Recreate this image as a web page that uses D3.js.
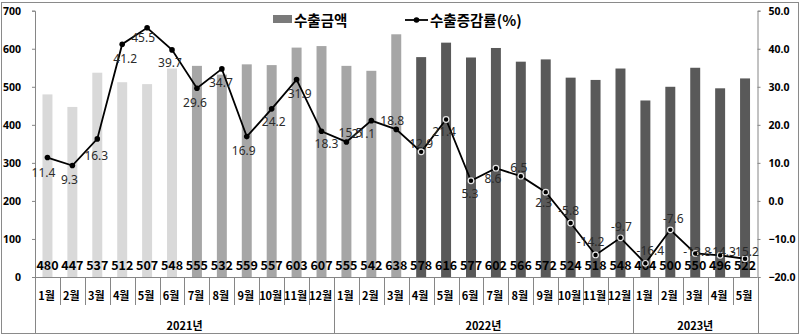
<!DOCTYPE html>
<html>
<head>
<meta charset="utf-8">
<script src="https://cdn.jsdelivr.net/npm/d3@7/dist/d3.min.js"></script>
<style>
  html, body { margin: 0; padding: 0; background: #fff; }
  svg { display: block; }
  text { font-family: "Noto Sans CJK KR", "Noto Sans", sans-serif; }
</style>
</head>
<body>
<svg id="chart" width="800" height="336"></svg>
<script>
// Monthly export amount and year-on-year change rate
const years = ["2021년", "2022년", "2023년"];
const monthsPerYear = [12, 12, 5];
const months = [
  "1월","2월","3월","4월","5월","6월","7월","8월","9월","10월","11월","12월",
  "1월","2월","3월","4월","5월","6월","7월","8월","9월","10월","11월","12월",
  "1월","2월","3월","4월","5월"
];
const exportAmount = [
  480, 447, 537, 512, 507, 548, 555, 532, 559, 557, 603, 607,
  555, 542, 638, 578, 616, 577, 602, 566, 572, 524, 518, 548,
  464, 500, 550, 496, 522
];
const exportRate = [
  11.4, 9.3, 16.3, 41.2, 45.5, 39.7, 29.6, 34.7, 16.9, 24.2, 31.9, 18.3,
  15.5, 21.1, 18.8, 12.9, 21.4, 5.3, 8.6, 6.5, 2.3, -5.8, -14.2, -9.7,
  -16.4, -7.6, -13.8, -14.3, -15.2
];
const leftTicks = [0, 100, 200, 300, 400, 500, 600, 700];
const rightTicks = [-20, -10, 0, 10, 20, 30, 40, 50];

// label nudges for the rate labels (dx, dy from each point)
const rateLabelNudge = [
  [-4, 15], [-3, 14], [-1, 17], [3, 14], [-4, 10], [-2, 13], [-2, 14], [-1, 14],
  [-3, 14], [2, 12.5], [3, 13.5], [5, 12.5], [4, -9], [-8, 12.5], [-4, -9], [0, -8.5],
  [-2, 12], [-1, 12.5], [-3, 10], [-2, -9], [-2, 10], [-2, -12], [-5, -13], [1, -11],
  [5, -13], [3, -11], [2, -2], [2, -4], [0, -7]
];

const svg = d3.select("#chart");
const plot = { left: 35, right: 757.5, top: 10.7, bottom: 277 };
const axisColor = "#868686";

const idx = d3.range(exportAmount.length);
const x = d3.scaleBand().domain(idx).range([plot.left, plot.right]).padding(0);
const yL = d3.scaleLinear().domain([0, 700]).range([plot.bottom, plot.top]);
const yR = d3.scaleLinear().domain([-20, 50]).range([plot.bottom, plot.top]);
const cx = i => x(i) + x.bandwidth() / 2;

function barShade(i) {
  if (i < 6) return "#d9d9d9";
  if (i < 15) return "#a6a6a6";
  return "#595959";
}

// outer frame
svg.append("rect")
  .attr("x", 1.5).attr("y", 2.5).attr("width", 797).attr("height", 331)
  .attr("fill", "none").attr("stroke", "#8a8a8a").attr("stroke-width", 1);

// bars
const bw = x.bandwidth() * 0.4;
svg.append("g").selectAll("rect").data(idx).join("rect")
  .attr("x", i => cx(i) - bw / 2)
  .attr("y", i => yL(exportAmount[i]))
  .attr("width", bw)
  .attr("height", i => yL(0) - yL(exportAmount[i]))
  .attr("fill", i => barShade(i));

// left axis
const gL = svg.append("g").attr("transform", `translate(${plot.left},0)`)
  .call(d3.axisLeft(yL).tickValues(leftTicks).tickSize(3).tickPadding(11).tickFormat(d3.format("d")));
gL.select(".domain").attr("stroke", axisColor);
gL.selectAll(".tick line").attr("stroke", axisColor);
gL.selectAll(".tick text").attr("fill", "#000").style("font-size", "10.5px").style("font-weight", "bold")
  .style("font-family", "'Noto Sans', sans-serif");

// right axis
const gR = svg.append("g").attr("transform", `translate(${plot.right},0)`)
  .call(d3.axisRight(yR).tickValues(rightTicks).tickSize(3).tickPadding(8).tickFormat(d3.format(".1f")));
gR.select(".domain").attr("stroke", axisColor);
gR.selectAll(".tick line").attr("stroke", axisColor);
gR.selectAll(".tick text").attr("fill", "#000").style("font-size", "10.5px").style("font-weight", "bold")
  .style("font-family", "'Noto Sans', sans-serif");

// category axis: baseline, month dividers, year dividers
const cat = svg.append("g");
cat.append("line").attr("x1", plot.left).attr("x2", plot.right)
  .attr("y1", plot.bottom + 0.5).attr("y2", plot.bottom + 0.5).attr("stroke", axisColor);

const yearStart = [0];
monthsPerYear.forEach((n, k) => yearStart.push(yearStart[k] + n));
const step = x.step();
d3.range(exportAmount.length + 1).forEach(i => {
  const xx = Math.round(plot.left + i * step) + 0.5;
  const isYear = yearStart.includes(i);
  cat.append("line").attr("x1", xx).attr("x2", xx)
    .attr("y1", plot.bottom).attr("y2", isYear ? 333 : 305)
    .attr("stroke", axisColor);
});

cat.selectAll("text.month").data(idx).join("text")
  .attr("class", "month")
  .attr("x", i => cx(i) - 1)
  .attr("y", 295)
  .attr("text-anchor", "middle").attr("dominant-baseline", "central")
  .style("font-size", "11px").style("font-weight", "bold")
  .text(i => months[i]);

cat.selectAll("text.year").data(years).join("text")
  .attr("class", "year")
  .attr("x", (d, k) => (plot.left + yearStart[k] * step + plot.left + yearStart[k + 1] * step) / 2)
  .attr("y", 325)
  .attr("text-anchor", "middle").attr("dominant-baseline", "central")
  .style("font-size", "11px").style("font-weight", "bold")
  .text(d => d);

// bar value labels
svg.append("g").selectAll("text").data(idx).join("text")
  .attr("x", i => cx(i))
  .attr("y", 264)
  .attr("text-anchor", "middle").attr("dominant-baseline", "central")
  .style("font-size", "12.5px").style("font-weight", "bold").attr("fill", "#000")
  .text(i => exportAmount[i]);

// rate line
const line = d3.line().x(i => cx(i)).y(i => yR(exportRate[i]));
svg.append("path").datum(idx).attr("d", line)
  .attr("fill", "none").attr("stroke", "#000").attr("stroke-width", 1.8);

svg.append("g").selectAll("circle").data(idx).join("circle")
  .attr("cx", i => cx(i)).attr("cy", i => yR(exportRate[i])).attr("r", 2.8)
  .attr("fill", "#000").attr("stroke", i => i >= 15 ? "#e6e6e6" : "none").attr("stroke-width", 1.2);

svg.append("g").selectAll("text").data(idx).join("text")
  .attr("x", i => cx(i) + rateLabelNudge[i][0])
  .attr("y", i => yR(exportRate[i]) + rateLabelNudge[i][1])
  .attr("text-anchor", "middle").attr("dominant-baseline", "central")
  .style("font-size", "12px").style("font-family", "'Noto Sans', sans-serif").attr("fill", "#2b2b2b")
  .text(i => exportRate[i].toFixed(1));

// legend
const lg = svg.append("g");
lg.append("rect").attr("x", 273).attr("y", 15).attr("width", 19).attr("height", 8).attr("fill", "#7a7a7a");
lg.append("text").attr("x", 294).attr("y", 19.5).attr("dominant-baseline", "central")
  .style("font-size", "14.5px").style("font-weight", "bold").text("수출금액");
lg.append("line").attr("x1", 405).attr("x2", 428).attr("y1", 20).attr("y2", 20)
  .attr("stroke", "#000").attr("stroke-width", 1.8);
lg.append("circle").attr("cx", 416.5).attr("cy", 20).attr("r", 2.8).attr("fill", "#000");
lg.append("text").attr("x", 430).attr("y", 19.5).attr("dominant-baseline", "central")
  .style("font-size", "14.5px").style("font-weight", "bold").text("수출증감률(%)");
</script>
</body>
</html>
